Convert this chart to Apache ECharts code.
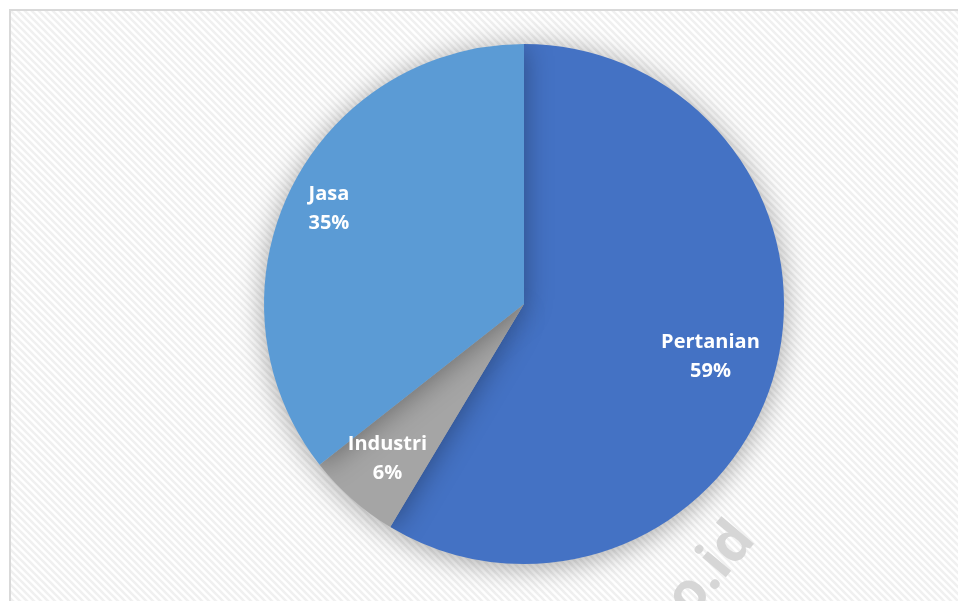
<!DOCTYPE html>
<html>
<head>
<meta charset="utf-8">
<script src="https://cdn.jsdelivr.net/npm/echarts@6/dist/echarts.min.js"></script>
<style>
html,body{margin:0;padding:0;background:#fff;}
#chart{width:958px;height:601px;}
</style>
</head>
<body>
<div id="chart"></div>
<script>
const categories = ['Pertanian', 'Industri', 'Jasa'];
const values = [58.6, 5.8, 35.6];
const percentLabels = ['59%', '6%', '35%'];
const sliceColors = ['#4472C4', '#A5A5A5', '#5B9BD5'];
const labelOffsets = [[-14, -3], [1, -1], [-8, -4]];

// diagonal hatch tile
const tile = document.createElement('canvas');
tile.width = 7; tile.height = 7;
const tc = tile.getContext('2d');
tc.fillStyle = '#ffffff';
tc.fillRect(0, 0, 7, 7);
tc.strokeStyle = '#f0f0f0';
tc.lineWidth = 2.6;
for (let k = -1; k <= 1; k++) {
  tc.beginPath();
  tc.moveTo(k * 7 - 1, -1);
  tc.lineTo(k * 7 + 8, 8);
  tc.stroke();
}

const chart = echarts.init(document.getElementById('chart'), null, {renderer: 'canvas'});
const pieData = categories.map((c, i) => ({
  name: c,
  value: values[i],
  itemStyle: {color: sliceColors[i]}
}));
const labelData = categories.map((c, i) => ({
  name: c,
  value: values[i],
  label: {offset: labelOffsets[i], formatter: c + '\n' + percentLabels[i]}
}));

chart.setOption({
  animation: false,
  graphic: {
    elements: [
      {
        type: 'rect', z: -100, silent: true,
        shape: {x: 10, y: 10, width: 980, height: 620},
        style: {fill: {image: tile, repeat: 'repeat'}, stroke: '#d9d9d9', lineWidth: 2}
      },
      {
        type: 'text', z: -50, silent: true,
        x: 766, y: 548, rotation: 50 * Math.PI / 180,
        style: {
          text: 'o.id', fill: '#d6d6d6',
          font: 'bold 56px "Open Sans"',
          textAlign: 'right', textVerticalAlign: 'bottom'
        }
      }
    ]
  },
  series: [
    {
      type: 'pie',
      center: [524, 304],
      radius: 260,
      startAngle: 90,
      clockwise: true,
      silent: true,
      label: {show: false},
      labelLine: {show: false},
      itemStyle: {
        borderWidth: 0,
        shadowBlur: 28,
        shadowColor: 'rgba(0,0,0,0.35)',
        shadowOffsetY: 3
      },
      data: pieData
    },
    {
      type: 'pie',
      center: [524, 304],
      radius: [150, 260],
      startAngle: 90,
      clockwise: true,
      silent: true,
      itemStyle: {color: 'rgba(0,0,0,0)'},
      labelLine: {show: false},
      label: {
        show: true,
        position: 'inside',
        color: '#ffffff',
        fontFamily: 'Open Sans',
        fontWeight: 'bold',
        fontSize: 20,
        lineHeight: 29
      },
      data: labelData
    }
  ]
});
</script>
</body>
</html>
